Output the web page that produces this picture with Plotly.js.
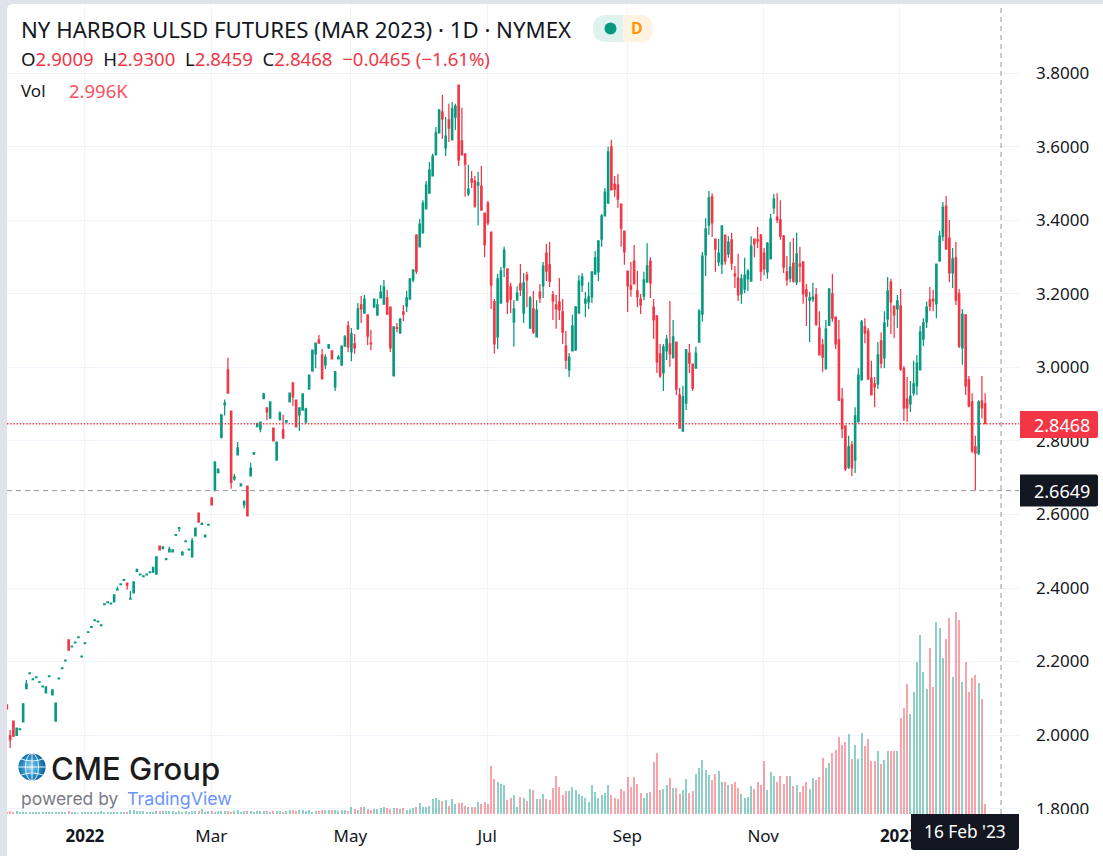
<!DOCTYPE html>
<html>
<head>
<meta charset="utf-8">
<script src="https://cdn.plot.ly/plotly-3.0.1.min.js"></script>
<style>
html,body{margin:0;padding:0;width:1103px;height:856px;overflow:hidden;background:#e0e3eb}
#card{position:absolute;left:7px;top:4px;width:1096px;height:852px;background:#fff;border-top-left-radius:6px;overflow:hidden}
#chart{width:1096px;height:852px}
#chart .barlayer path{shape-rendering:crispEdges}
</style>
</head>
<body>
<div id="card"><div id="chart"></div></div>
<script>
const opens = [
2.082,1.998,2.038,1.999,2.015,2.036,2.126,2.167,2.151,2.156,
2.143,2.131,2.115,2.159,2.109,2.038,2.153,2.181,2.202,2.259,
2.240,2.251,2.265,2.213,2.249,2.279,2.293,2.311,2.308,2.298,
2.355,2.360,2.357,2.362,2.395,2.409,2.421,2.413,2.370,2.387,
2.445,2.436,2.431,2.436,2.442,2.443,2.438,2.514,2.507,2.477,
2.498,2.498,2.543,2.562,2.490,2.526,2.504,2.485,2.542,2.604,
2.573,2.539,2.571,2.645,2.665,2.714,2.809,2.899,2.993,2.881,
2.697,2.762,2.678,2.626,2.677,2.705,2.764,2.839,2.833,2.915,
2.890,2.862,2.835,2.748,2.857,2.830,2.851,2.906,2.958,2.911,
2.871,2.884,2.852,2.941,2.990,3.037,3.075,3.034,3.007,3.053,
3.045,2.947,3.023,3.007,3.058,3.113,3.042,3.064,3.106,3.170,
3.148,3.143,3.066,3.164,3.143,3.189,3.172,3.189,3.164,2.977,
3.108,3.094,3.151,3.167,3.186,3.238,3.360,3.328,3.366,3.431,
3.474,3.521,3.578,3.638,3.695,3.597,3.673,3.619,3.681,3.768,
3.616,3.581,3.472,3.513,3.507,3.496,3.493,3.420,3.447,3.368,
3.178,3.083,3.175,3.273,3.268,3.219,3.124,3.183,3.227,3.148,
3.251,3.107,3.159,3.083,3.205,3.222,3.311,3.279,3.197,3.170,
3.178,3.151,3.058,2.993,3.045,3.048,3.148,3.224,3.175,3.178,
3.192,3.254,3.260,3.349,3.412,3.447,3.600,3.498,3.496,3.444,
3.371,3.262,3.222,3.289,3.208,3.186,3.194,3.232,3.289,3.164,
3.140,3.037,2.985,3.045,3.064,3.026,3.069,2.925,2.827,2.903,
3.039,3.009,2.998,3.069,3.145,3.306,3.387,3.464,3.349,3.287,
3.281,3.360,3.309,3.347,3.254,3.243,3.200,3.213,3.241,3.235,
3.349,3.347,3.360,3.311,3.260,3.295,3.434,3.409,3.401,3.357,
3.260,3.243,3.284,3.232,3.281,3.287,3.211,3.183,3.186,3.197,
3.107,3.061,2.996,3.115,3.200,3.137,3.075,2.914,2.841,2.729,
2.789,2.748,2.852,2.966,3.110,3.099,2.971,2.955,2.955,3.072,
3.026,3.132,3.232,3.167,3.159,3.167,2.996,2.914,2.901,2.930,
2.950,2.993,3.077,3.124,3.183,3.186,3.173,3.289,3.357,3.439,
3.352,3.257,3.298,3.200,3.053,3.143,2.966,2.906,2.784,2.767,
2.909,2.9009];
const highs = [
2.082,2.014,2.038,2.019,2.017,2.085,2.150,2.169,2.153,2.158,
2.145,2.133,2.131,2.161,2.123,2.087,2.155,2.183,2.204,2.259,
2.242,2.253,2.267,2.215,2.251,2.281,2.295,2.313,2.310,2.300,
2.357,2.362,2.359,2.381,2.404,2.411,2.423,2.413,2.392,2.417,
2.453,2.438,2.433,2.438,2.444,2.456,2.485,2.514,2.512,2.482,
2.512,2.504,2.545,2.564,2.501,2.528,2.506,2.536,2.563,2.604,
2.579,2.544,2.573,2.645,2.743,2.726,2.871,2.913,3.026,2.881,
2.710,2.797,2.683,2.636,2.677,2.741,2.768,2.848,2.851,2.931,
2.890,2.906,2.835,2.797,2.881,2.871,2.855,2.930,2.958,2.911,
2.890,2.928,2.890,2.979,3.047,3.066,3.088,3.050,3.036,3.064,
3.045,2.990,3.034,3.058,3.088,3.126,3.107,3.091,3.175,3.194,
3.197,3.143,3.102,3.186,3.186,3.224,3.238,3.211,3.164,3.110,
3.121,3.132,3.170,3.208,3.241,3.265,3.362,3.404,3.455,3.507,
3.559,3.581,3.654,3.703,3.741,3.681,3.717,3.722,3.717,3.768,
3.706,3.581,3.551,3.534,3.521,3.532,3.548,3.420,3.453,3.368,
3.186,3.254,3.273,3.328,3.268,3.230,3.183,3.221,3.281,3.257,
3.260,3.194,3.208,3.183,3.227,3.287,3.336,3.341,3.208,3.197,
3.243,3.186,3.099,3.039,3.143,3.167,3.251,3.257,3.205,3.232,
3.260,3.317,3.344,3.417,3.488,3.600,3.619,3.521,3.526,3.444,
3.371,3.262,3.287,3.333,3.262,3.200,3.260,3.338,3.300,3.186,
3.140,3.064,3.064,3.088,3.181,3.129,3.069,2.944,2.950,3.050,
3.064,3.009,3.056,3.159,3.314,3.406,3.480,3.474,3.349,3.349,
3.387,3.360,3.357,3.366,3.276,3.309,3.254,3.298,3.268,3.357,
3.349,3.382,3.363,3.325,3.341,3.417,3.472,3.474,3.455,3.360,
3.303,3.341,3.352,3.366,3.328,3.287,3.227,3.205,3.230,3.216,
3.153,3.077,3.129,3.216,3.254,3.137,3.129,2.944,2.841,2.814,
2.800,2.892,2.998,3.129,3.134,3.107,3.018,2.974,3.069,3.096,
3.153,3.246,3.241,3.167,3.197,3.213,3.004,2.974,2.963,3.018,
3.034,3.113,3.134,3.179,3.219,3.211,3.281,3.371,3.450,3.466,
3.401,3.325,3.341,3.213,3.159,3.143,2.977,2.930,2.814,2.911,
2.977,2.9300];
const lows = [
2.071,1.965,1.995,1.999,2.015,2.036,2.126,2.167,2.151,2.156,
2.143,2.131,2.115,2.159,2.109,2.038,2.153,2.181,2.202,2.231,
2.240,2.251,2.265,2.213,2.249,2.279,2.293,2.311,2.308,2.298,
2.355,2.360,2.357,2.362,2.395,2.409,2.421,2.395,2.370,2.387,
2.445,2.436,2.431,2.436,2.442,2.443,2.438,2.504,2.507,2.477,
2.498,2.498,2.543,2.553,2.490,2.526,2.504,2.482,2.542,2.577,
2.573,2.539,2.571,2.626,2.665,2.714,2.809,2.869,2.930,2.670,
2.692,2.762,2.678,2.616,2.596,2.705,2.764,2.839,2.824,2.915,
2.857,2.862,2.800,2.748,2.857,2.808,2.851,2.906,2.895,2.838,
2.827,2.884,2.846,2.941,2.990,2.998,3.066,2.969,2.996,3.050,
3.023,2.936,3.023,3.004,3.058,3.042,3.017,3.037,3.102,3.121,
3.148,3.061,3.047,3.164,3.140,3.189,3.172,3.143,3.042,2.977,
3.096,3.091,3.126,3.151,3.186,3.232,3.254,3.328,3.366,3.431,
3.474,3.521,3.578,3.638,3.621,3.575,3.613,3.619,3.646,3.548,
3.578,3.464,3.466,3.488,3.434,3.387,3.428,3.300,3.387,3.159,
3.037,3.050,3.175,3.246,3.145,3.148,3.056,3.183,3.194,3.121,
3.164,3.107,3.091,3.083,3.175,3.189,3.235,3.219,3.129,3.105,
3.129,3.064,2.996,2.974,3.045,3.045,3.148,3.205,3.137,3.159,
3.175,3.254,3.235,3.328,3.412,3.447,3.483,3.464,3.434,3.328,
3.279,3.151,3.192,3.227,3.164,3.145,3.183,3.232,3.189,3.077,
2.985,2.971,2.936,3.020,3.002,3.026,2.925,2.833,2.827,2.884,
2.985,2.936,2.998,3.069,3.124,3.249,3.360,3.355,3.260,3.276,
3.254,3.279,3.298,3.265,3.216,3.181,3.173,3.202,3.208,3.235,
3.300,3.325,3.235,3.251,3.241,3.295,3.417,3.393,3.347,3.257,
3.222,3.232,3.230,3.224,3.232,3.173,3.113,3.069,3.178,3.113,
3.034,2.988,2.996,3.113,3.124,3.050,2.909,2.808,2.718,2.724,
2.705,2.713,2.852,2.966,3.066,2.966,2.925,2.892,2.941,2.998,
2.998,3.110,3.091,3.080,3.107,2.990,2.854,2.852,2.879,2.923,
2.925,2.993,3.058,3.107,3.153,3.153,3.134,3.289,3.344,3.322,
3.232,3.216,3.170,3.053,3.007,2.925,2.892,2.767,2.6649,2.762,
2.862,2.8459];
const closes = [
2.071,1.987,1.997,2.019,2.017,2.085,2.139,2.169,2.153,2.158,
2.145,2.133,2.131,2.161,2.123,2.087,2.155,2.183,2.204,2.231,
2.242,2.253,2.267,2.215,2.251,2.281,2.295,2.313,2.310,2.300,
2.357,2.362,2.359,2.381,2.397,2.411,2.423,2.408,2.372,2.417,
2.450,2.438,2.433,2.438,2.444,2.456,2.485,2.504,2.512,2.479,
2.506,2.504,2.545,2.564,2.497,2.528,2.506,2.528,2.563,2.580,
2.575,2.544,2.573,2.626,2.743,2.723,2.871,2.903,2.930,2.687,
2.702,2.781,2.683,2.636,2.596,2.726,2.768,2.848,2.851,2.928,
2.879,2.906,2.800,2.797,2.876,2.808,2.855,2.930,2.920,2.838,
2.890,2.928,2.887,2.979,3.047,3.066,3.066,2.969,3.028,3.061,
3.023,2.988,3.028,3.058,3.083,3.056,3.091,3.053,3.159,3.159,
3.186,3.085,3.064,3.186,3.170,3.205,3.219,3.145,3.053,3.110,
3.106,3.132,3.145,3.189,3.241,3.265,3.262,3.390,3.447,3.496,
3.537,3.575,3.638,3.700,3.676,3.629,3.651,3.703,3.711,3.564,
3.578,3.553,3.485,3.504,3.439,3.502,3.428,3.333,3.393,3.224,
3.064,3.241,3.262,3.319,3.178,3.186,3.159,3.202,3.211,3.230,
3.238,3.189,3.096,3.156,3.189,3.276,3.262,3.235,3.181,3.159,
3.156,3.096,3.020,3.028,3.113,3.164,3.235,3.246,3.186,3.192,
3.260,3.298,3.344,3.412,3.477,3.586,3.483,3.485,3.458,3.379,
3.314,3.222,3.213,3.227,3.192,3.170,3.238,3.276,3.230,3.129,
3.015,2.977,3.056,3.077,3.037,3.083,2.941,2.835,2.920,3.048,
3.012,2.944,3.039,3.153,3.303,3.377,3.461,3.393,3.322,3.311,
3.385,3.289,3.341,3.284,3.249,3.197,3.241,3.251,3.262,3.330,
3.336,3.344,3.262,3.268,3.338,3.404,3.458,3.401,3.357,3.273,
3.238,3.273,3.235,3.309,3.276,3.200,3.194,3.189,3.191,3.118,
3.034,3.028,3.105,3.213,3.134,3.064,2.911,2.833,2.724,2.784,
2.727,2.868,2.979,3.124,3.094,2.969,2.925,2.947,3.034,3.012,
3.121,3.208,3.178,3.143,3.181,2.996,2.890,2.890,2.922,2.955,
3.012,3.096,3.121,3.164,3.167,3.181,3.281,3.357,3.436,3.322,
3.257,3.295,3.183,3.058,3.145,2.950,2.895,2.773,2.767,2.906,
2.890,2.8468];
// daily volume, thousands of contracts
const volumes = [
0.7,0.8,0.6,0.8,0.7,0.7,0.6,0.7,0.6,0.6,
0.7,0.6,0.6,0.7,0.6,0.6,0.6,0.7,0.7,0.8,
0.6,0.6,0.3,0.5,0.5,0.6,0.6,0.7,0.7,0.8,
0.6,0.6,0.6,0.7,0.6,0.7,0.6,0.7,1.3,1.1,
0.8,0.8,0.9,0.7,0.7,0.7,0.8,0.9,0.8,1.0,
0.8,0.9,0.7,0.8,0.7,0.9,0.6,0.8,1.0,0.9,
1.6,0.5,0.9,0.8,0.6,0.9,0.9,0.9,0.8,0.6,
0.8,1.1,0.5,0.8,0.9,0.9,0.6,0.9,0.9,0.9,
0.8,0.6,0.9,0.9,0.8,0.6,0.8,1.1,1.2,0.9,
1.1,1.2,0.9,1.2,0.6,0.8,0.9,1.2,1.2,1.1,
1.2,1.2,0.9,1.2,1.1,0.8,2.0,1.5,1.2,2.1,
2.0,1.5,1.2,1.5,1.5,1.8,2.1,1.8,1.4,1.7,
1.8,1.4,1.8,1.2,1.4,1.8,2.1,3.3,2.1,2.1,
2.4,4.5,4.8,4.2,3.9,4.2,2.4,4.5,3.0,3.3,
3.3,2.4,2.1,2.1,2.1,3.6,3.0,3.6,3.0,14.4,
10.5,9.6,9.0,8.7,4.2,4.8,5.7,2.1,5.1,4.8,
3.9,7.5,7.2,4.5,4.5,6.0,4.5,4.2,7.8,11.4,
8.1,5.7,6.9,6.9,8.1,7.2,6.0,5.4,4.8,3.6,
8.7,6.6,4.8,5.7,6.3,8.7,5.7,4.8,4.5,7.5,
6.9,11.1,8.1,11.1,9.0,6.3,4.8,6.3,6.6,15.6,
18.3,7.2,7.5,8.7,10.8,7.8,7.8,6.0,7.2,10.5,
6.3,6.9,12.0,13.8,16.2,13.2,11.7,10.2,12.0,12.9,
9.6,9.6,8.7,9.0,9.6,7.8,6.0,4.8,5.1,8.4,
7.5,9.6,8.7,15.9,7.2,12.6,11.4,9.6,11.4,9.0,
11.4,11.4,8.4,8.7,6.6,8.4,9.6,7.5,10.8,10.2,
11.1,16.8,13.8,15.3,18.3,19.2,23.1,20.7,21.6,24.0,
16.5,20.7,16.5,24.3,20.4,22.5,15.9,15.9,18.9,15.0,
16.2,18.9,18.9,18.9,18.9,28.8,31.8,39.0,30.0,36.6,
45.6,53.7,42.6,37.5,49.8,38.1,57.6,55.8,46.8,52.5,
58.8,41.1,60.6,58.2,39.6,45.6,36.6,40.8,41.7,39.3,
34.5,2.996];
const tickBars = [24,62.9,105.7,147.8,190.9,232.7,274.6];
const tickLabels = ['<b>2022</b>','Mar','May','Jul','Sep','Nov','<b>2023</b>'];
const priceTicks = [1.8,2.0,2.2,2.4,2.6,2.8,3.0,3.2,3.4,3.6,3.8];
const lastPrice = 2.8468, crossPrice = 2.6649, crossBar = 305.9;

const UP='#089981', DOWN='#f23645', INK='#131722', FONT='"Noto Sans", sans-serif';
const barIndex = opens.map((_,i)=>i);
const volumeColors = opens.map((o,i)=> closes[i]>=o ? 'rgba(8,153,129,0.46)' : 'rgba(242,54,69,0.46)');

// pixel helpers for page furniture (plot spans 7..1019 by 4..814)
const PX=x=>(x-7)/1012, PY=y=>1-(y-4)/810;
function box(x0,y0,x1,y1,color,r=[0,0,0,0]){
  const [tl,tr,br,bl]=r;
  const P=(x,y)=>PX(x)+','+PY(y);
  const path='M'+P(x0+tl,y0)+' L'+P(x1-tr,y0)+' Q'+P(x1,y0)+' '+P(x1,y0+tr)+' L'+P(x1,y1-br)+' Q'+P(x1,y1)+' '+P(x1-br,y1)+
    ' L'+P(x0+bl,y1)+' Q'+P(x0,y1)+' '+P(x0,y1-bl)+' L'+P(x0,y0+tl)+' Q'+P(x0,y0)+' '+P(x0+tl,y0)+' Z';
  return {type:'path',xref:'paper',yref:'paper',path,fillcolor:color,line:{width:0},layer:'above'};
}
function label(x,y,text,size,color,anchor='left',extra={}){
  return Object.assign({xref:'paper',yref:'paper',x:PX(x),y:PY(y),text,showarrow:false,xanchor:anchor,yanchor:'middle',
    font:{family:FONT,size,color},borderpad:0},extra);
}
const red=s=>'<span style="color:'+DOWN+'">'+s+'</span>';

const globe='data:image/svg+xml;utf8,'+encodeURIComponent(
'<svg xmlns="http://www.w3.org/2000/svg" width="28" height="28" viewBox="0 0 28 28"><defs><radialGradient id="g" cx="45%" cy="50%" r="55%"><stop offset="0" stop-color="#9fd8f2"/><stop offset="0.55" stop-color="#2b93cf"/><stop offset="1" stop-color="#0b5f9a"/></radialGradient></defs>'+
'<circle cx="14" cy="14" r="13.6" fill="url(#g)"/><g fill="none" stroke="#fff" stroke-width="0.9"><ellipse cx="14" cy="14" rx="6.5" ry="13.6"/><line x1="14" y1="0.4" x2="14" y2="27.6"/><line x1="0.4" y1="14" x2="27.6" y2="14"/><path d="M3 6 Q14 10 25 6"/><path d="M3 22 Q14 18 25 22"/></g></svg>');
const sun='data:image/svg+xml;utf8,'+encodeURIComponent(
'<svg xmlns="http://www.w3.org/2000/svg" width="24" height="24" viewBox="0 0 24 24"><g fill="none" stroke="#131722" stroke-width="1.2"><circle cx="12" cy="12" r="6.7"/><path d="M12 1v3.2M12 19.8V23M1 12h3.2M19.8 12H23M4.2 4.2l2.3 2.3M17.5 17.5l2.3 2.3M4.2 19.8l2.3-2.3M17.5 6.5l2.3-2.3"/></g></svg>');

const traces=[
 {type:'bar',x:barIndex,y:volumes,yaxis:'y2',width:0.62,marker:{color:volumeColors,line:{width:0}},hoverinfo:'skip',showlegend:false},
 {type:'candlestick',x:barIndex,open:opens,high:highs,low:lows,close:closes,whiskerwidth:0,hoverinfo:'skip',showlegend:false,
  increasing:{line:{color:UP,width:1.25},fillcolor:UP},decreasing:{line:{color:DOWN,width:1.25},fillcolor:DOWN}}
];
const layout={
 width:1096,height:852,margin:{l:0,t:0,r:84,b:42,pad:0},
 paper_bgcolor:'#fff',plot_bgcolor:'#fff',showlegend:false,boxgap:0.4,bargap:0.3,
 font:{family:FONT,size:17,color:INK},
 xaxis:{range:[0.03,311.42],rangeslider:{visible:false},tickmode:'array',tickvals:tickBars,ticktext:tickLabels,
   showgrid:true,gridcolor:'#f0f3fa',gridwidth:1,zeroline:false,showline:false,ticks:'',tickangle:0,
   tickfont:{family:FONT,size:17,color:INK},ticklabelstandoff:10},
 yaxis:{range:[1.7853,3.9885],side:'right',tickmode:'array',tickvals:priceTicks,tickformat:'.4f',
   showgrid:true,gridcolor:'#f0f3fa',gridwidth:1,zeroline:false,showline:false,ticks:'',
   tickfont:{family:FONT,size:17,color:INK},ticklabelstandoff:16},
 yaxis2:{range:[0,243],overlaying:'y',visible:false,fixedrange:true},
 images:[
  {source:globe,xref:'paper',yref:'paper',x:PX(18),y:PY(753),sizex:28/1012,sizey:28/810,xanchor:'left',yanchor:'top',sizing:'stretch',layer:'above'},
  {source:sun,xref:'paper',yref:'paper',x:PX(1050),y:PY(823.5),sizex:24/1012,sizey:24/810,xanchor:'left',yanchor:'top',sizing:'stretch',layer:'above'}
 ],
 shapes:[
  {type:'line',xref:'paper',x0:0,x1:1,yref:'y',y0:lastPrice,y1:lastPrice,line:{color:DOWN,width:1.4,dash:'1.4px 1.8px'},layer:'above'},
  {type:'line',xref:'paper',x0:0,x1:1,yref:'y',y0:crossPrice,y1:crossPrice,line:{color:'#9598a1',width:1,dash:'5px 4px'},layer:'above'},
  {type:'line',xref:'x',x0:crossBar,x1:crossBar,yref:'paper',y0:0,y1:1,line:{color:'#9598a1',width:1,dash:'5px 4px'},layer:'above'},
  box(1019,814,1103,856,'#ffffff'),
  box(1020,411,1098,438,DOWN,[0,2,2,0]),
  box(1020,474.5,1098,506.5,INK,[0,2,2,0]),
  box(911,814,1019,850,INK,[0,0,3,3]),
  box(593,15,623,42,'#dff2ef',[13.5,0,0,13.5]),
  box(623,15,653,42,'#fff2e0',[0,13.5,13.5,0]),
  {type:'circle',xref:'paper',yref:'paper',x0:PX(604.5),x1:PX(616.5),y0:PY(22.5),y1:PY(34.5),fillcolor:UP,line:{width:0},layer:'above'}
 ],
 annotations:[
  label(20,29,'NY HARBOR ULSD FUTURES (MAR 2023) · 1D · NYMEX',22.2,INK),
  label(637,28.5,'<b>D</b>',16,'#ff9800','center'),
  label(20,59,'O'+red('2.9009')+'  H'+red('2.9300')+'  L'+red('2.8459')+'  C'+red('2.8468')+'  '+red('−0.0465 (−1.61%)'),18.6,INK),
  label(20,91,'Vol',17,INK),
  label(68,91,'2.996K',18.5,'#f7525f'),
  label(1062,424.5,'2.8468',18,'#ffffff','center'),
  label(1062,490.5,'2.6649',18,'#ffffff','center'),
  label(965,832,"16 Feb '23",17.3,'#ffffff','center'),
  label(50,768,'CME Group',32,'#1c1c1c','left',{font:{family:'Inter, sans-serif',size:31,color:'#1c1c1c',weight:500}}),
  label(20,798,'powered by',18,'#787b86','left',{font:{family:'Inter, sans-serif',size:17.5,color:'#787b86'}}),
  label(126,798,'TradingView',18,'#6a94ff','left',{font:{family:'Inter, sans-serif',size:17.8,color:'#6a94ff'}})
 ]
};
Plotly.newPlot('chart',traces,layout,{displayModeBar:false,staticPlot:true,responsive:false});
</script>
</body>
</html>
